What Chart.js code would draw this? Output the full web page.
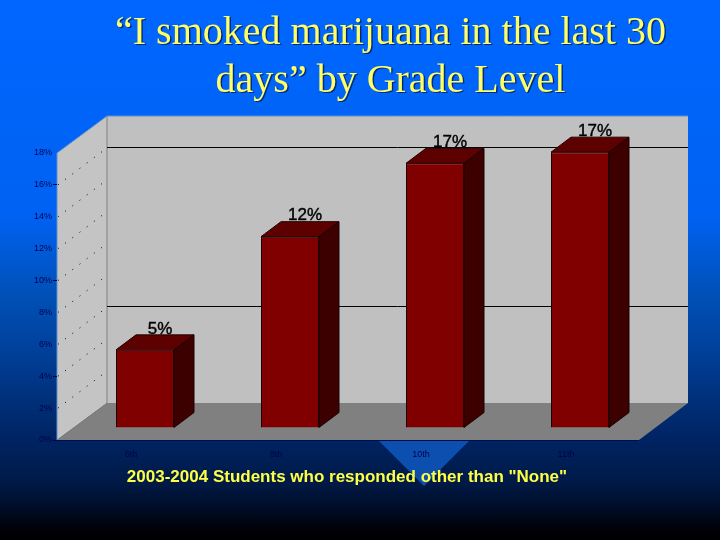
<!DOCTYPE html>
<html>
<head>
<meta charset="utf-8">
<script src="https://cdn.jsdelivr.net/npm/chart.js@4"></script>
<style>
html, body { margin: 0; padding: 0; width: 720px; height: 540px; overflow: hidden; }
body { background: linear-gradient(to bottom, #0066ff 0%, #0062f2 40%, #0050b5 55%, #00409a 65%, #00307a 74%, #002464 81%, #001a48 89%, #001030 93%, #000008 98%, #000000 100%); position: relative; }
#wedge { position: absolute; left: 378px; top: 440px; width: 92px; height: 46px; background: #0c4fae; clip-path: polygon(0 0, 100% 0, 50% 100%); }
#wrap { position: absolute; left: 0; top: 0; width: 720px; height: 540px; }
</style>
</head>
<body>
<div id="wedge"></div>
<div id="wrap"><canvas id="gradeChart" width="720" height="540"></canvas></div>
<script>
const grades = ['6th', '8th', '10th', '11th'];
const percents = [4.9, 12, 16.6, 17.3];
const tickValues = [0, 2, 4, 6, 8, 10, 12, 14, 16, 18];
const backLines = [16, 6];
const markedTicks = [16, 10, 4, 0];
const titleLines = ['\u201cI smoked marijuana in the last 30', 'days\u201d by Grade Level'];
const footNote = '2003-2004 Students who responded other than "None"';

// depth of the fake 3d box and of each bar
const boxDepth = { x: 50, y: -37 };
const boxOverhang = 2;
const barDepth = { x: 20, y: -15 };
const barShift = { x: 15.5, y: -12 };

function poly(ctx, pts, fill, stroke) {
    ctx.beginPath();
    pts.forEach((p, i) => i ? ctx.lineTo(p[0], p[1]) : ctx.moveTo(p[0], p[1]));
    ctx.closePath();
    ctx.fillStyle = fill;
    ctx.fill();
    if (stroke) {
        ctx.lineWidth = 1;
        ctx.strokeStyle = stroke;
        ctx.stroke();
    }
}

const box3d = {
    id: 'box3d',
    afterLayout(chart) {
        // the slide title is centred further right than the plot
        chart.titleBlock.left = 60;
        chart.titleBlock.right = 721;
    },
    beforeDraw(chart) {
        const { ctx, chartArea: a, scales } = chart;
        const dx = boxDepth.x, dy = boxDepth.y;
        const right = a.right + boxOverhang;
        const o = chart.options.plugins.title;
        ctx.save();
        // title shadow
        ctx.font = '40px "Liberation Serif"';
        ctx.textAlign = 'center';
        ctx.textBaseline = 'middle';
        ctx.fillStyle = 'rgba(0,20,70,0.7)';
        o.text.forEach((t, i) => ctx.fillText(t, 390.5 + 1.5, 33 + i * 48 + 1.5));
        poly(ctx, [[a.left + dx, a.top + dy], [right + dx - 1, a.top + dy], [right + dx - 1, a.bottom + dy], [a.left + dx, a.bottom + dy]], '#c0c0c0');
        poly(ctx, [[a.left, a.top], [a.left + dx, a.top + dy], [a.left + dx, a.bottom + dy], [a.left, a.bottom]], '#c4c4c4');
        poly(ctx, [[a.left, a.bottom], [a.left + dx, a.bottom + dy], [right + dx - 1, a.bottom + dy], [right, a.bottom]], '#808080');
        // wall edges
        ctx.strokeStyle = '#808080';
        ctx.lineWidth = 1;
        ctx.beginPath();
        ctx.moveTo(a.left + dx, a.top + dy);
        ctx.lineTo(a.left + dx, a.bottom + dy);
        ctx.stroke();
        ctx.strokeStyle = '#5f8fd0';
        ctx.beginPath();
        ctx.moveTo(a.left, a.bottom);
        ctx.lineTo(a.left, a.top);
        ctx.lineTo(a.left + dx, a.top + dy);
        ctx.lineTo(right + dx - 1, a.top + dy);
        ctx.stroke();
        // front edge of the floor
        ctx.strokeStyle = '#00104c';
        ctx.beginPath();
        ctx.moveTo(a.left, a.bottom + 0.5);
        ctx.lineTo(right, a.bottom + 0.5);
        ctx.stroke();
        // dotted lines on the side wall
        ctx.strokeStyle = '#000000';
        ctx.setLineDash([1, 8]);
        scales.y.ticks.forEach(t => {
            if (t.value === 0 || t.value === 18) return;
            const y = scales.y.getPixelForValue(t.value);
            ctx.beginPath();
            ctx.moveTo(a.left + 1, y);
            ctx.lineTo(a.left + dx, y + dy);
            ctx.stroke();
        });
        ctx.setLineDash([]);
        // solid lines on the back wall
        ctx.strokeStyle = '#000000';
        ctx.lineWidth = 1;
        backLines.forEach(v => {
            const y = Math.round(scales.y.getPixelForValue(v) + dy) - 0.5;
            ctx.beginPath();
            ctx.moveTo(a.left + dx, y);
            ctx.lineTo(right + dx - 1, y);
            ctx.stroke();
        });
        ctx.restore();
    },
    beforeDatasetsDraw(chart) {
        chart.ctx.save();
        chart.ctx.translate(barShift.x, barShift.y);
    },
    afterDatasetsDraw(chart) {
        const ctx = chart.ctx;
        const bars = chart.getDatasetMeta(0).data;
        const dx = barDepth.x, dy = barDepth.y;
        // labels first, the bar tops cut into them
        ctx.font = '17px "Liberation Sans"';
        ctx.textAlign = 'center';
        ctx.textBaseline = 'middle';
        ctx.fillStyle = '#000000';
        ctx.strokeStyle = '#000000';
        ctx.lineWidth = 0.4;
        bars.forEach((b, i) => {
            ctx.fillText(Math.round(percents[i]) + '%', b.x + 15, b.y - 21);
            ctx.strokeText(Math.round(percents[i]) + '%', b.x + 15, b.y - 21);
        });
        bars.forEach(b => {
            const l = b.x - b.width / 2, r = b.x + b.width / 2;
            poly(ctx, [[l, b.y], [l + dx, b.y + dy], [r + dx, b.y + dy], [r, b.y]], '#5c0000', '#260000');
            poly(ctx, [[r, b.y], [r + dx, b.y + dy], [r + dx, b.base + dy], [r, b.base]], '#3c0000', '#1c0000');
        });
        ctx.restore();
    }
};

new Chart(document.getElementById('gradeChart').getContext('2d'), {
    type: 'bar',
    data: {
        labels: grades,
        datasets: [{
            label: 'Students',
            data: percents,
            backgroundColor: '#800000',
            borderColor: '#1c0000',
            borderWidth: 1,
            barPercentage: 0.4,
            categoryPercentage: 1,
            clip: false
        }]
    },
    options: {
        responsive: false,
        animation: false,
        layout: { padding: { right: 83, bottom: 52 } },
        plugins: {
            legend: { display: false },
            tooltip: { enabled: false },
            title: {
                display: true,
                text: titleLines,
                color: '#ffff66',
                font: { family: '"Liberation Serif"', size: 40, weight: 'normal', lineHeight: 1.2 },
                padding: { top: 9, bottom: 48 }
            }
        },
        scales: {
            x: {
                afterFit(s) { s.height = 48; },
                grid: { display: false },
                border: { display: false },
                ticks: { color: '#000050', font: { family: '"Liberation Sans"', size: 9 }, padding: 1, labelOffset: 1.5, maxRotation: 0 },
                title: {
                    display: true,
                    text: footNote,
                    color: '#ffff44',
                    font: { family: '"Liberation Sans"', size: 17, weight: 'bold', lineHeight: 1.2 },
                    padding: 0
                }
            },
            y: {
                min: 0,
                max: 18,
                afterFit(s) { s.width = 57; },
                afterBuildTicks(s) { s.ticks = tickValues.map(v => ({ value: v })); },
                border: { display: false },
                grid: {
                    drawOnChartArea: false,
                    tickLength: 4,
                    tickColor: c => markedTicks.includes(c.tick.value) ? '#00003c' : 'transparent'
                },
                ticks: { color: '#000050', font: { family: '"Liberation Sans"', size: 9 }, padding: 1, callback: v => v + '%' }
            }
        }
    },
    plugins: [box3d]
});
</script>
</body>
</html>
